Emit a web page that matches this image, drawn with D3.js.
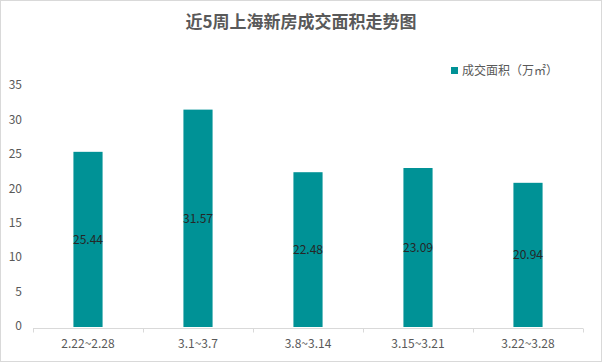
<!DOCTYPE html>
<html>
<head>
<meta charset="utf-8">
<script src="https://cdnjs.cloudflare.com/ajax/libs/d3/7.8.5/d3.min.js"></script>
<style>
  body { margin: 0; background: #fff; }
  svg text { font-family: "Noto Sans CJK SC", "Microsoft YaHei", sans-serif; }
</style>
</head>
<body>
<div id="chart"></div>
<script>
'use strict';

var title = "近5周上海新房成交面积走势图";
var seriesName = "成交面积（万㎡）";
var weeks = ["2.22~2.28", "3.1~3.7", "3.8~3.14", "3.15~3.21", "3.22~3.28"];
var area = [25.44, 31.57, 22.48, 23.09, 20.94];
var yTicks = [0, 5, 10, 15, 20, 25, 30, 35];

var width = 602, height = 362;
var margin = {top: 86, right: 19, bottom: 35, left: 33};
var teal = "#009296";

var svg = d3.select("#chart").append("svg")
  .attr("width", width)
  .attr("height", height);

// outer frame
svg.append("rect")
  .attr("x", 0.5).attr("y", 0.5)
  .attr("width", width - 1).attr("height", height - 1)
  .attr("fill", "#fff").attr("stroke", "#d9d9d9");

var x = d3.scaleBand()
  .domain(weeks)
  .range([margin.left, width - margin.right])
  .paddingInner(0.735).paddingOuter(0.3675);

var y = d3.scaleLinear()
  .domain([0, 35])
  .range([height - margin.bottom, margin.top]);

// title
svg.append("text")
  .attr("x", width / 2).attr("y", 28)
  .attr("text-anchor", "middle")
  .attr("font-size", 17).attr("font-weight", "bold")
  .attr("fill", "#595959")
  .text(title);

// y axis labels only, no line
var yAxis = svg.append("g")
  .attr("transform", "translate(" + margin.left + ",-1)")
  .call(d3.axisLeft(y).tickValues(yTicks).tickSize(0).tickPadding(11));
yAxis.select(".domain").remove();
yAxis.selectAll("text").attr("font-size", 12).attr("fill", "#595959")
  .style("font-family", "'Noto Sans CJK SC', sans-serif");

// bars
svg.append("g").selectAll("rect")
  .data(area)
  .join("rect")
  .attr("x", function (d, i) { return x(weeks[i]); })
  .attr("y", function (d) { return y(d); })
  .attr("width", x.bandwidth())
  .attr("height", function (d) { return y(0) - y(d); })
  .attr("fill", teal);

// value labels centred inside bars
svg.append("g").selectAll("text")
  .data(area)
  .join("text")
  .attr("x", function (d, i) { return x(weeks[i]) + x.bandwidth() / 2; })
  .attr("y", function (d) { return (y(d) + y(0)) / 2; })
  .attr("dy", "0.35em")
  .attr("text-anchor", "middle")
  .attr("font-size", 12)
  .attr("fill", "#262626")
  .text(function (d) { return d.toFixed(2); });

// x axis with band-edge ticks
var xEdge = d3.scaleLinear().domain([0, weeks.length]).range([margin.left, width - margin.right]);
var xg = svg.append("g").attr("transform", "translate(0," + (y(0) + 1.5) + ")");
xg.append("line")
  .attr("x1", margin.left).attr("x2", width - margin.right)
  .attr("stroke", "#d9d9d9");
xg.selectAll(".tk")
  .data(d3.range(weeks.length + 1))
  .join("line")
  .attr("class", "tk")
  .attr("x1", function (d) { return Math.round(xEdge(d)) + 0.5; })
  .attr("x2", function (d) { return Math.round(xEdge(d)) + 0.5; })
  .attr("y1", 0).attr("y2", 4)
  .attr("stroke", "#d9d9d9");
xg.selectAll("text")
  .data(weeks)
  .join("text")
  .attr("x", function (d) { return x(d) + x.bandwidth() / 2; })
  .attr("y", 19)
  .attr("text-anchor", "middle")
  .attr("font-size", 12)
  .attr("fill", "#595959")
  .text(function (d) { return d; });

// legend
var lg = svg.append("g").attr("transform", "translate(451,71)");
lg.append("rect").attr("x", 0).attr("y", -4).attr("width", 7).attr("height", 7).attr("fill", teal);
lg.append("text").attr("x", 11).attr("y", 0).attr("dy", "0.35em")
  .attr("font-size", 12).attr("fill", "#595959")
  .text(seriesName);
</script>
</body>
</html>
